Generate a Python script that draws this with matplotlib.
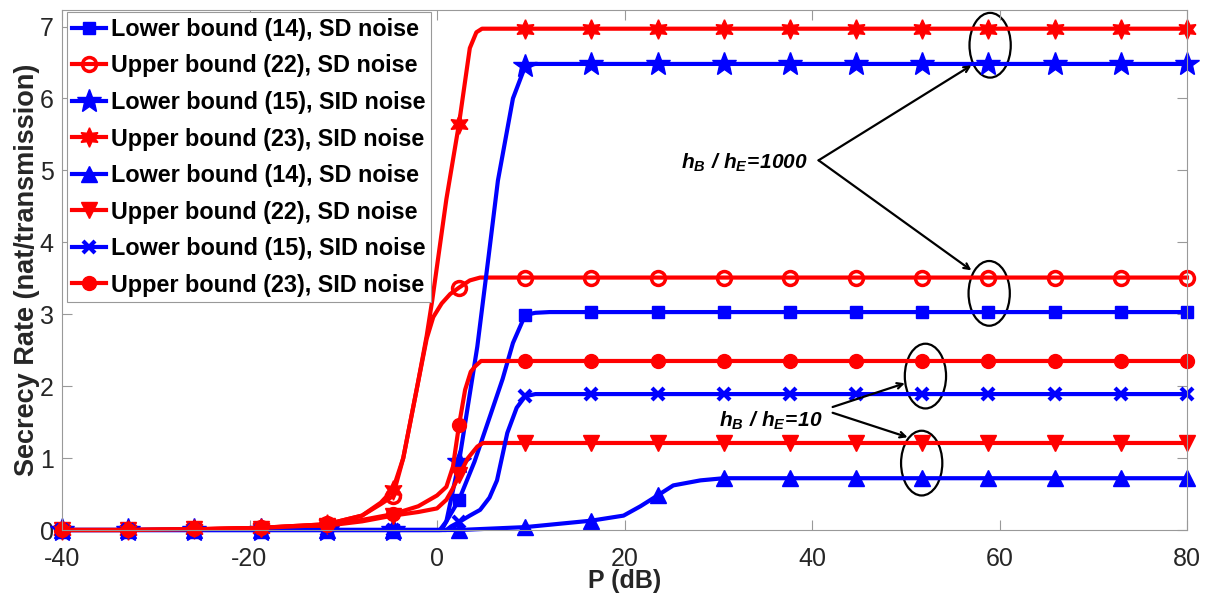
import numpy as np
import matplotlib
matplotlib.use("Agg")
import matplotlib.pyplot as plt
from matplotlib.patches import Ellipse

plt.rcParams['font.family'] = ['Liberation Sans', 'DejaVu Sans']
plt.rcParams['axes.unicode_minus'] = False
plt.rcParams['mathtext.fontset'] = 'custom'
plt.rcParams['mathtext.rm'] = 'Liberation Sans:bold:italic'
plt.rcParams['mathtext.it'] = 'Liberation Sans:bold:italic'

# marker positions (dB)
p_mark = [-40, -32.94, -25.88, -18.82, -11.76, -4.71, 2.35, 9.41, 16.47,
          23.53, 30.59, 37.65, 44.71, 51.76, 58.82, 65.88, 72.94, 80]
p_flat = p_mark[8:]  # 16.47 ... 80

# h_B / h_E = 1000
lb14_sd_x = [-40, -32.94, -25.88, -18.82, -11.76, -4.71, 0.3, 1.0, 2.35, 4.0, 5.7, 7.0, 8.1, 9.41, 10.5, 12] + p_flat
lb14_sd_y = [0, 0, 0, 0, 0, 0, 0, 0.12, 0.42, 0.95, 1.6, 2.1, 2.6, 2.99, 3.02, 3.03] + [3.03] * 10

ub22_sd_x = [-40, -32.94, -25.88, -18.82, -11.76, -8, -6, -4.71, -3.6, -2.1, -1.1, -0.4, 0.5, 1.4, 2.35, 3.5, 4.6, 6, 9.41] + p_flat
ub22_sd_y = [0, 0, 0.01, 0.03, 0.08, 0.2, 0.36, 0.47, 1.0, 2.0, 2.66, 2.96, 3.15, 3.28, 3.37, 3.47, 3.51, 3.51, 3.51] + [3.51] * 10

lb15_sid_x = [-40, -32.94, -25.88, -18.82, -11.76, -4.71, 0.5, 1.0, 2.35, 4.3, 5.5, 6.5, 8.1, 9.41, 10.5] + p_flat
lb15_sid_y = [0, 0, 0, 0, 0, 0, 0, 0.12, 0.95, 2.55, 3.8, 4.86, 6.0, 6.45, 6.48] + [6.48] * 10

ub23_sid_x = [-40, -32.94, -25.88, -18.82, -11.76, -8, -6, -4.71, -3.6, -2.1, -1.1, -0.5, 1.0, 2.35, 3.5, 4.2, 4.8, 9.41] + p_flat
ub23_sid_y = [0, 0, 0.01, 0.03, 0.08, 0.2, 0.38, 0.56, 1.0, 2.0, 2.7, 3.2, 4.6, 5.65, 6.7, 6.92, 6.97, 6.97] + [6.97] * 10

# h_B / h_E = 10
lb14_sd10_x = [-40, -32.94, -25.88, -18.82, -11.76, -4.71, 2.35, 9.41, 16.47, 19.9, 21.7, 23.53, 25.2, 28.1, 30.59] + p_mark[11:]
lb14_sd10_y = [0, 0, 0, 0, 0, 0, 0.0, 0.04, 0.13, 0.2, 0.33, 0.48, 0.62, 0.69, 0.72] + [0.72] * 7

ub22_sd10_x = [-40, -32.94, -25.88, -18.82, -11.76, -8, -4.71, -2, 0, 1.0, 1.7, 2.35, 3.3, 4.3, 4.9, 9.41] + p_flat
ub22_sd10_y = [0, 0, 0.01, 0.02, 0.06, 0.12, 0.2, 0.25, 0.3, 0.42, 0.58, 0.76, 1.0, 1.16, 1.21, 1.21] + [1.21] * 10

lb15_sid10_x = [-40, -32.94, -25.88, -18.82, -11.76, -4.71, 1.0, 1.5, 2.35, 3.5, 4.6, 5.6, 6.4, 7.5, 8.5, 9.41, 10.5] + p_flat
lb15_sid10_y = [0, 0, 0, 0, 0, 0, 0, 0.05, 0.11, 0.2, 0.28, 0.45, 0.69, 1.35, 1.7, 1.86, 1.89] + [1.89] * 10

ub23_sid10_x = [-40, -32.94, -25.88, -18.82, -11.76, -8, -4.71, -2, 0, 1.0, 1.7, 2.35, 3.0, 3.6, 4.1, 4.7, 9.41] + p_flat
ub23_sid10_y = [0, 0, 0.01, 0.03, 0.07, 0.14, 0.22, 0.33, 0.48, 0.6, 0.88, 1.46, 1.95, 2.2, 2.28, 2.35, 2.35] + [2.35] * 10

labels = ['Lower bound (14), SD noise', 'Upper bound (22), SD noise',
          'Lower bound (15), SID noise', 'Upper bound (23), SID noise',
          'Lower bound (14), SD noise', 'Upper bound (22), SD noise',
          'Lower bound (15), SID noise', 'Upper bound (23), SID noise']

series = [
    (lb14_sd_x, lb14_sd_y, 'blue', 's', 'blue', 9, 1),
    (ub22_sd_x, ub22_sd_y, 'red', 'o', 'none', 10, 2.5),
    (lb15_sid_x, lb15_sid_y, 'blue', '*', 'blue', 18, 1),
    (ub23_sid_x, ub23_sid_y, 'red', (6, 1, 0), 'red', 14, 1),
    (lb14_sd10_x, lb14_sd10_y, 'blue', '^', 'blue', 12, 1),
    (ub22_sd10_x, ub22_sd10_y, 'red', 'v', 'red', 12, 1),
    (lb15_sid10_x, lb15_sid10_y, 'blue', 'x', 'blue', 8, 3),
    (ub23_sid10_x, ub23_sid10_y, 'red', 'o', 'red', 10, 1),
]

fig = plt.figure(figsize=(12.05, 6.01), dpi=100)
ax = fig.add_axes([62 / 1205, 71 / 601, 1125 / 1205, 520 / 601])

for (xs, ys, c, m, fc, ms, mew), lab in zip(series, labels):
    idx = [i for i, v in enumerate(xs) if v in p_mark]
    ax.plot(xs, ys, color=c, lw=3, marker=m, markersize=ms, markerfacecolor=fc,
            markeredgecolor=c, markeredgewidth=mew, markevery=idx,
            clip_on=False, label=lab)

ax.set_xlim(-40, 80)
ax.set_ylim(0, 7.23)
ax.set_xticks([-40, -20, 0, 20, 40, 60, 80])
ax.set_yticks(range(8))
ax.tick_params(direction='in', length=7, width=0.8, color='#999999',
               labelsize=18, labelcolor='#262626', top=True, right=True)
ax.tick_params(axis='x', pad=12)
ax.tick_params(axis='y', pad=6)
for s in ax.spines.values():
    s.set_color('#999999')
    s.set_linewidth(0.8)

ax.set_xlabel('P (dB)', fontsize=18, fontweight='bold', color='#262626', labelpad=-1)
ax.set_ylabel('Secrecy Rate (nat/transmission)', fontsize=19.5, fontweight='bold',
              color='#262626', labelpad=0)

leg = ax.legend(loc='upper left', bbox_to_anchor=(0.004, 0.996), borderaxespad=0,
                prop={'weight': 'bold', 'size': 16.8}, handlelength=1.45,
                handletextpad=0.2, borderpad=0.25, labelspacing=0.58,
                fancybox=False, framealpha=1, edgecolor='#999999')
leg.get_frame().set_linewidth(0.8)

# annotations
for cx, cy in [(59.0, 6.74), (58.9, 3.29), (52.1, 2.14), (51.7, 0.93)]:
    ax.add_patch(Ellipse((cx, cy), 4.4, 0.9, fill=False, edgecolor='black', lw=1.6))

arw = dict(arrowstyle='->', color='black', lw=1.6, shrinkA=0, shrinkB=0)
ax.annotate('', xy=(57.0, 6.46), xytext=(40.7, 5.14), arrowprops=arw)
ax.annotate('', xy=(57.0, 3.61), xytext=(40.7, 5.14), arrowprops=arw)
ax.annotate('', xy=(49.9, 2.04), xytext=(42.2, 1.71), arrowprops=arw)
ax.annotate('', xy=(50.2, 1.29), xytext=(42.2, 1.63), arrowprops=arw)

ax.text(26.0, 5.03, r'$h_B\ /\ h_E\!=\!1000$', fontsize=15, ha='left', va='baseline')
ax.text(30.1, 1.43, r'$h_B\ /\ h_E\!=\!10$', fontsize=15, ha='left', va='baseline')

fig.savefig('out.png', dpi=100)
